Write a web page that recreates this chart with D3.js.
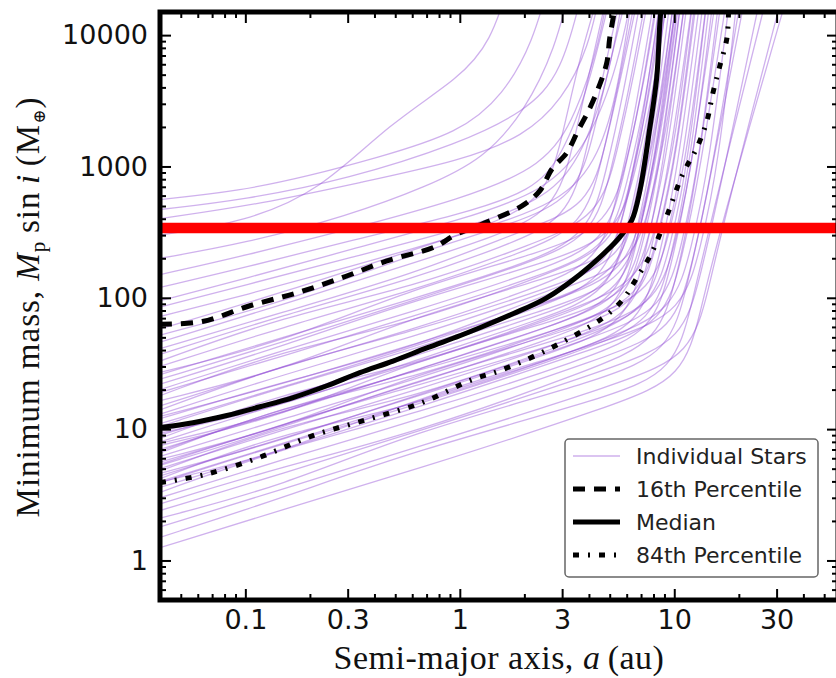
<!DOCTYPE html>
<html>
<head>
<meta charset="utf-8">
<script src="https://cdn.jsdelivr.net/npm/d3@7"></script>
<style>
  html, body { margin: 0; padding: 0; background: #fff; }
  svg { display: block; }
</style>
</head>
<body>
<svg id="chart" width="836" height="678"></svg>
<script>
// Detection-limit curves: minimum mass vs semi-major axis, one curve per star.
// Each star is a list of [a (au), Mp sin i (Earth masses)] points.
const stars = [
  [[0.04,560],[0.094,650],[0.2,850],[0.4,1150],[1,1800],[1.6,3500],[2.2,9000],[2.6,25000]],
  [[0.04,300],[0.1,380],[0.223,651],[0.47,2130],[1,4700],[1.4,9000],[1.7,25000]],
  [[0.04,470],[0.1,560],[0.3,800],[1,1500],[2,2600],[3,5000],[3.8,25000]],
  [[0.04,400],[0.12,520],[0.35,760],[1,1100],[2,1700],[3,3200],[4,8000],[4.6,25000]],
  [[0.04,200],[0.1,260],[0.3,420],[0.7,700],[1.3,1150],[2,2600],[2.8,8000],[3.3,25000]],
  [[0.04,150],[0.1,210],[0.3,330],[1,560],[2.5,1000],[3.5,2500],[4.5,9000],[5,25000]],
  [[0.04,120],[0.1,170],[0.3,270],[1,430],[2.2,650],[3,1200],[4,4000],[5.2,25000]],
  [[0.04,95],[0.1,140],[0.3,230],[1,390],[2.5,640],[4,1500],[5.5,6000],[6.5,25000]],
  [[0.04,85],[0.1,125],[0.3,200],[1,330],[2.6,560],[3.8,1300],[5,5000],[5.9,25000]],
  [[0.04,72],[0.1,105],[0.3,170],[1,300],[3,520],[4.5,1200],[5.5,4000],[6.5,25000]],
  [[0.04,58],[0.15,110],[0.6,230],[1.25,340],[2.5,550],[3.0,1650],[3.6,6600],[4.6,25000]],
  [[0.04,52],[0.15,92],[0.6,215],[1.75,361],[3.5,583],[4.2,1750],[5.1,7000],[6.2,25000]],
  [[0.04,46],[0.15,89],[0.6,183],[1.4,286],[2.8,462],[3.36,1390],[4.06,5540],[5.0,25000]],
  [[0.04,41],[0.15,78],[0.6,150],[2,330],[4,492],[4.8,1480],[5.8,5900],[7,25000]],
  [[0.04,37],[0.15,74],[0.6,139],[1.6,246],[3.2,397],[3.84,1190],[4.64,4760],[5.8,25000]],
  [[0.04,33],[0.15,72],[0.6,120],[2.25,260],[4.5,420],[5.4,1260],[6.5,5040],[7.8,25000]],
  [[0.04,30],[0.15,60],[0.6,113],[1.9,217],[3.8,351],[4.56,1050],[5.5,4200],[6.8,25000]],
  [[0.04,27],[0.15,46],[0.6,118],[2.5,224],[5,363],[6,1090],[7.25,4360],[8.6,25000]],
  [[0.04,26],[0.15,50],[0.6,98],[2,180],[4,300],[4.8,900],[5.8,3600],[7.2,25000]],
  [[0.04,24],[0.15,46],[0.6,95],[2.1,183],[4.2,295],[5.04,885],[6.1,3540],[7.6,25000]],
  [[0.04,22],[0.15,43],[0.6,95],[2.75,191],[5.5,309],[6.6,930],[8,3700],[9.5,25000]],
  [[0.04,20],[0.15,40],[0.6,78],[2.4,163],[4.8,263],[5.76,790],[6.96,3150],[8.5,25000]],
  [[0.04,19],[0.15,36],[0.6,72],[2.5,150],[5,245],[6,735],[7.3,2900],[8.9,25000]],
  [[0.04,18],[0.15,40],[0.6,64],[2.6,152],[5.2,246],[6.24,740],[7.54,2950],[9.2,25000]],
  [[0.04,16.5],[0.15,28],[0.6,72],[3,150],[6,242],[7.2,726],[8.7,2900],[10.5,25000]],
  [[0.04,15],[0.15,30],[0.6,57],[2.25,118],[4.5,191],[5.4,573],[6.5,2290],[8.3,25000]],
  [[0.04,14],[0.15,31],[0.6,55],[2.9,125],[5.8,202],[6.96,606],[8.4,2420],[10.2,25000]],
  [[0.04,13],[0.15,26],[0.6,50],[2.5,108],[5,175],[6,525],[7.25,2100],[9,25000]],
  [[0.04,12.5],[0.15,22],[0.6,44],[3,98],[6,160],[7.2,480],[8.7,1900],[10.7,25000]],
  [[0.04,12],[0.15,23],[0.6,41],[3.25,125],[6.5,183],[7.8,550],[9.4,2200],[11.5,25000]],
  [[0.04,11],[0.15,21],[0.6,42],[2.75,96],[5.5,154],[6.6,462],[8,1850],[9.8,25000]],
  [[0.04,10.5],[0.15,21],[0.6,40],[2.4,85],[4.8,138],[5.76,414],[6.96,1660],[8.8,25000]],
  [[0.04,9.6],[0.15,16],[0.6,40],[3,87],[6,141],[7.2,423],[8.7,1690],[10.8,25000]],
  [[0.04,9.3],[0.15,15],[0.6,33],[2.5,70],[5,110],[6,330],[7.3,1300],[9.3,25000]],
  [[0.04,9],[0.15,17],[0.6,36],[2.6,76],[5.2,123],[6.24,369],[7.54,1480],[9.4,25000]],
  [[0.04,8.5],[0.15,19],[0.6,30],[3.5,83],[7,135],[8.4,405],[10.2,1620],[12.5,25000]],
  [[0.04,8],[0.15,16],[0.6,31],[2.9,71],[5.8,115],[6.96,345],[8.4,1380],[10.5,25000]],
  [[0.04,7.8],[0.15,13],[0.6,28],[3,64],[6,104],[7.2,312],[8.7,1250],[11,25000]],
  [[0.04,7.5],[0.15,12.5],[0.6,33],[3.25,71],[6.5,114],[7.8,342],[9.4,1370],[11.8,25000]],
  [[0.04,7],[0.15,13.6],[0.6,27.5],[2.75,61],[5.5,98],[6.6,294],[8,1180],[10.2,25000]],
  [[0.04,6.8],[0.15,14.5],[0.6,27],[3.5,62],[7,100],[8.4,300],[10.2,1200],[12.8,25000]],
  [[0.04,6.6],[0.15,15],[0.6,24],[4,69],[8,112],[9.6,336],[11.6,1340],[14.5,25000]],
  [[0.04,6.2],[0.15,12],[0.6,23.5],[3,56],[6,91],[7.2,273],[8.7,1090],[11,25000]],
  [[0.04,5.9],[0.15,10.2],[0.6,26],[3.5,58],[7,93],[8.4,279],[10.2,1120],[13,25000]],
  [[0.04,5.6],[0.15,10.6],[0.6,22],[2.75,49],[5.5,79],[6.6,237],[8,950],[10.5,25000]],
  [[0.04,5.4],[0.15,11],[0.6,21],[4,52],[8,85],[9.6,255],[11.6,1020],[14.5,25000]],
  [[0.04,5.3],[0.15,10.3],[0.6,23],[4.25,57],[8.5,93],[10.2,279],[12.3,1120],[15.5,25000]],
  [[0.04,5],[0.15,9.9],[0.6,19.4],[3.25,47],[6.5,76],[7.8,228],[9.4,910],[12.5,25000]],
  [[0.04,4.8],[0.15,10.8],[0.6,17],[3.75,49],[7.5,79],[9,237],[10.9,950],[14,25000]],
  [[0.04,4.6],[0.15,8.2],[0.6,17.8],[4.5,51],[9,83],[10.8,249],[13,1000],[16.5,25000]],
  [[0.04,4.4],[0.15,8.5],[0.6,17.3],[3,40],[6,64],[7.2,192],[8.7,770],[11.5,25000]],
  [[0.04,4.2],[0.15,9.5],[0.6,14.5],[5,49],[10,80],[12,240],[14.5,960],[18.5,25000]],
  [[0.04,4],[0.15,7.8],[0.6,15.8],[3.5,39],[7,63],[8.4,189],[10.2,760],[13.5,25000]],
  [[0.04,3.95],[0.15,6.6],[0.6,17],[5.5,49],[11,79],[13.2,237],[16,950],[20,25000]],
  [[0.04,3.9],[0.15,7.8],[0.6,14.8],[4,41],[8,66],[9.6,198],[11.6,790],[15,25000]],
  [[0.04,3.6],[0.15,7],[0.6,14.2],[4.5,42],[9,65],[10.8,195],[13,780],[18,25000]],
  [[0.04,3.3],[0.15,7.2],[0.6,12.8],[4,35],[8,56],[9.6,168],[11.6,670],[16,25000]],
  [[0.04,3],[0.15,5.9],[0.6,11.3],[5,36],[10,57],[12,171],[14.5,680],[21,25000]],
  [[0.04,2.7],[0.15,5.2],[0.6,9.2],[4.25,29],[8.5,47],[10.2,141],[12.3,560],[17,25000]],
  [[0.04,2.4],[0.15,4.6],[0.6,9.3],[5.5,30],[11,48],[13.2,144],[16,570],[26,25000]],
  [[0.04,2.1],[0.15,3.7],[0.6,9.5],[4.75,24],[9.5,39],[11.4,117],[13.8,465],[22,25000]],
  [[0.04,1.8],[0.15,3.5],[0.6,7.1],[6,23],[12,37],[14.4,112],[17.4,450],[33,25000]],
  [[0.04,1.5],[0.15,3],[0.6,6.8],[5,17.5],[10,28],[12,85],[14.5,340],[28,25000]],
  [[0.04,1.25],[0.15,2.45],[0.6,4.8],[5.5,15.5],[11,25],[13.2,75],[16,300],[35,25000]]
];

// Percentile curves across stars
const p16 = [[0.04,63],[0.063,66],[0.105,87],[0.174,109],[0.282,142],[0.457,191],[0.764,244],[0.948,300],[1.27,365],[1.95,501],[2.36,652],[2.69,957],[3.15,1268],[3.55,1862],[4.04,2786],[4.5,4240],[4.85,6200],[5.0,9500],[5.25,15000]];
const p50 = [[0.04,10.3],[0.057,11.2],[0.082,12.7],[0.117,14.8],[0.167,17.4],[0.24,21.4],[0.342,26.9],[0.488,33],[0.702,41.5],[1,51.4],[1.24,59.1],[1.77,75.6],[2.54,100],[3.62,150],[4.84,228],[5.57,290],[6.34,390],[6.91,652],[7.69,1963],[8.28,4710],[8.56,12100],[8.65,15000]];
const p84 = [[0.04,3.92],[0.0648,4.51],[0.1156,6.07],[0.2065,8.93],[0.368,11.8],[0.665,15.9],[1.14,23.8],[1.54,27.9],[2.68,41.7],[4.59,69.3],[5.75,96.7],[6.69,142],[7.85,220],[9.23,420],[10.96,877],[12.73,1383],[14.2,2220],[15.1,3560],[16.3,5810],[17.6,9490],[17.9,15000]];

// Reference mass (horizontal line)
const referenceMass = 340;

// Axis ticks
const xMajorTicks = [0.1, 0.3, 1, 3, 10, 30];
const xTickLabels = ["0.1", "0.3", "1", "3", "10", "30"];
const xMinorTicks = [0.04,0.05,0.06,0.07,0.08,0.09,0.2,0.4,0.5,0.6,0.7,0.8,0.9,2,4,5,6,7,8,9,20,40,50];
const yMajorTicks = [1, 10, 100, 1000, 10000];
const yTickLabels = ["1", "10", "100", "1000", "10000"];
const yMinorTicks = [0.5,0.6,0.7,0.8,0.9,2,3,4,5,6,7,8,9,20,30,40,50,60,70,80,90,
  200,300,400,500,600,700,800,900,2000,3000,4000,5000,6000,7000,8000,9000];

const legendLabels = ["Individual Stars", "16th Percentile", "Median", "84th Percentile"];

// Layout
const W = 836, H = 678;
const L = 160, R = 838, T = 12, B = 600;

const svg = d3.select("#chart");
svg.append("rect").attr("width", W).attr("height", H).attr("fill", "#fff");

const x = d3.scaleLog().domain([0.04, 58]).range([L, R]);
const y = d3.scaleLog().domain([0.5, 15000]).range([B, T]);

svg.append("defs").append("clipPath").attr("id", "plotclip")
  .append("rect").attr("x", L).attr("y", T).attr("width", R - L).attr("height", B - T);

const plot = svg.append("g").attr("clip-path", "url(#plotclip)");

const starLine = d3.line().x(d => x(d[0])).y(d => y(d[1])).curve(d3.curveBasis);
const pLine = d3.line().x(d => x(d[0])).y(d => y(d[1])).curve(d3.curveCatmullRom.alpha(0.5));

const starColor = "rgb(145,78,215)";
const starOpacity = 0.44;

plot.append("g").selectAll("path").data(stars).join("path")
  .attr("d", starLine)
  .attr("fill", "none")
  .attr("stroke", starColor)
  .attr("stroke-opacity", starOpacity)
  .attr("stroke-width", 1.3);

plot.append("path").datum(p16).attr("d", pLine)
  .attr("fill", "none").attr("stroke", "#000").attr("stroke-width", 5)
  .attr("stroke-dasharray", "12,9");
plot.append("path").datum(p50).attr("d", pLine)
  .attr("fill", "none").attr("stroke", "#000").attr("stroke-width", 5)
  .attr("stroke-linejoin", "round");
plot.append("path").datum(p84).attr("d", pLine)
  .attr("fill", "none").attr("stroke", "#000").attr("stroke-width", 5)
  .attr("stroke-dasharray", "6,9,2,9");

plot.append("line")
  .attr("x1", L).attr("x2", R)
  .attr("y1", y(referenceMass)).attr("y2", y(referenceMass))
  .attr("stroke", "#ff0000").attr("stroke-width", 10.5);

// Axes with inward ticks on all four sides
const tickFont = "'DejaVu Sans', 'Bitstream Vera Sans', sans-serif";
function styleAxis(g, labels) {
  g.select(".domain").remove();
  g.selectAll(".tick line").attr("stroke", "#000").attr("stroke-width", 2);
  g.selectAll(".tick text")
    .attr("font-family", tickFont).attr("font-size", 27).attr("fill", "#111");
  if (!labels) g.selectAll(".tick text").remove();
}

const axes = svg.append("g");
// bottom
axes.append("g").attr("transform", `translate(0,${B})`)
  .call(d3.axisBottom(x).tickValues(xMajorTicks).tickSize(-11)
    .tickFormat((d, i) => xTickLabels[i]).tickPadding(10))
  .call(g => styleAxis(g, true));
axes.append("g").attr("transform", `translate(0,${B})`)
  .call(d3.axisBottom(x).tickValues(xMinorTicks).tickSize(-6).tickFormat(""))
  .call(g => styleAxis(g, false));
// top
axes.append("g").attr("transform", `translate(0,${T})`)
  .call(d3.axisTop(x).tickValues(xMajorTicks).tickSize(-11).tickFormat(""))
  .call(g => styleAxis(g, false));
axes.append("g").attr("transform", `translate(0,${T})`)
  .call(d3.axisTop(x).tickValues(xMinorTicks).tickSize(-6).tickFormat(""))
  .call(g => styleAxis(g, false));
// left
axes.append("g").attr("transform", `translate(${L},0)`)
  .call(d3.axisLeft(y).tickValues(yMajorTicks).tickSize(-11)
    .tickFormat((d, i) => yTickLabels[i]).tickPadding(12))
  .call(g => styleAxis(g, true));
axes.append("g").attr("transform", `translate(${L},0)`)
  .call(d3.axisLeft(y).tickValues(yMinorTicks).tickSize(-6).tickFormat(""))
  .call(g => styleAxis(g, false));
// right
axes.append("g").attr("transform", `translate(${R},0)`)
  .call(d3.axisRight(y).tickValues(yMajorTicks).tickSize(-11).tickFormat(""))
  .call(g => styleAxis(g, false));
axes.append("g").attr("transform", `translate(${R},0)`)
  .call(d3.axisRight(y).tickValues(yMinorTicks).tickSize(-6).tickFormat(""))
  .call(g => styleAxis(g, false));

// frame
axes.append("rect")
  .attr("x", L).attr("y", T).attr("width", R - L).attr("height", B - T)
  .attr("fill", "none").attr("stroke", "#000").attr("stroke-width", 5);

// Axis titles
const serif = "'Liberation Serif', 'DejaVu Serif', serif";
const xt = svg.append("text")
  .attr("x", 499).attr("y", 669)
  .attr("text-anchor", "middle")
  .attr("font-family", serif).attr("font-size", 34).attr("letter-spacing", 0.5)
  .attr("fill", "#111");
xt.append("tspan").text("Semi-major axis, ");
xt.append("tspan").attr("font-style", "italic").text("a");
xt.append("tspan").text("\u2009(au)");

const yt = svg.append("text")
  .attr("transform", "translate(39,307) rotate(-90)")
  .attr("text-anchor", "middle")
  .attr("font-family", serif).attr("font-size", 33).attr("letter-spacing", 1)
  .attr("fill", "#111");
yt.append("tspan").text("Minimum mass, ");
yt.append("tspan").attr("font-style", "italic").text("M");
yt.append("tspan").attr("font-size", 21).attr("dy", 6).text("p");
yt.append("tspan").attr("dy", -6).text("\u2009sin\u2009");
yt.append("tspan").attr("font-style", "italic").text("i");
yt.append("tspan").text("\u2009(M");
yt.append("tspan").attr("font-size", 17).attr("dy", 6).text("\u2295");
yt.append("tspan").attr("dy", -6).text(")");

// Legend
const lg = svg.append("g");
lg.append("rect").attr("x", 565).attr("y", 439).attr("width", 253).attr("height", 138)
  .attr("rx", 4).attr("fill", "#fff").attr("stroke", "#666").attr("stroke-width", 1.5);
const legendStyles = [
  { color: starColor, opacity: starOpacity, width: 1.3, dash: null },
  { color: "#000", opacity: 1, width: 5, dash: "12,9" },
  { color: "#000", opacity: 1, width: 5, dash: null },
  { color: "#000", opacity: 1, width: 5, dash: "6,9,2,9" }
];
legendLabels.forEach((lab, i) => {
  const cy = 456 + i * 33;
  const s = legendStyles[i];
  lg.append("line").attr("x1", 573).attr("x2", 620).attr("y1", cy).attr("y2", cy)
    .attr("stroke", s.color).attr("stroke-opacity", s.opacity)
    .attr("stroke-width", s.width).attr("stroke-dasharray", s.dash);
  lg.append("text").attr("x", 636).attr("y", cy + 8)
    .attr("font-family", tickFont).attr("font-size", 22).attr("fill", "#222")
    .text(lab);
});
</script>
</body>
</html>
